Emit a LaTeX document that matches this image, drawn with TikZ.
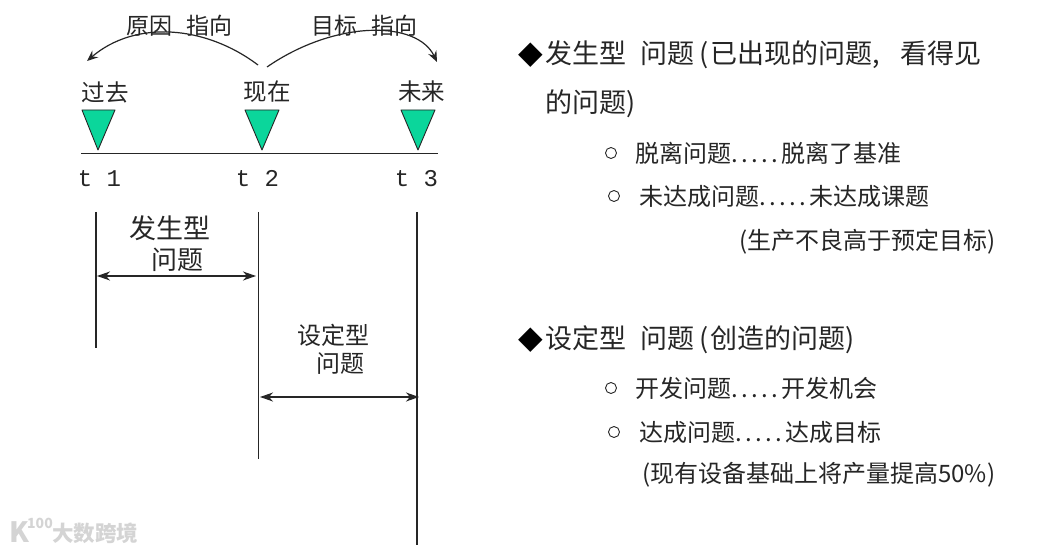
\documentclass[tikz,border=0pt]{standalone}
\usepackage{fontspec}
\setmainfont{Noto Sans CJK SC}[Scale=1]
\newfontfamily\latinf{Liberation Mono}
\newfontfamily\dejav{DejaVu Sans}
\usetikzlibrary{arrows.meta}
\definecolor{tri}{HTML}{0BD69B}
\definecolor{ink}{HTML}{262626}
\newcommand{\dotrun}{.\hspace{3.4pt}.\hspace{3.4pt}.\hspace{3.4pt}.\hspace{3.4pt}.\hspace{3.4pt}}
\tikzset{
  x=1pt,y=-1pt,
  lab/.style={inner sep=0pt,text=ink,font=\fontsize{#1}{#1}\selectfont},
  lab/.default=23,
  left lab/.style={lab=#1,anchor=west},
  left lab/.default=24,
  tlab/.style={inner sep=0pt,text=ink,font=\latinf\fontsize{24}{24}\selectfont},
  diam/.style={inner sep=0pt,text=black,font=\dejav\fontsize{32}{32}\selectfont},
  marker/.style={draw=ink,line width=0.9pt,fill=tri,line join=round},
  curve/.style={draw=ink,line width=1.2pt,-{Stealth[length=11pt,width=9pt,inset=4pt]}},
  span/.style={draw=ink,line width=1.1pt,{Stealth[length=13pt,width=9pt,inset=4pt]}-{Stealth[length=13pt,width=9pt,inset=4pt]}},
  vert/.style={draw=ink,line width=2pt},
  bullet/.style={draw=ink,line width=0.9pt,circle,inner sep=0pt,minimum size=11pt},
  wm/.style={left lab=#1,text=black!17,font=\bfseries\fontsize{#1}{#1}\selectfont},
}
\begin{document}
\begin{tikzpicture}
\useasboundingbox (0,0) rectangle (1060,553);
\fill[white] (0,0) rectangle (1060,553);

% top labels
\node[lab=23] (why) at (179.5,26) {原因\hspace{15pt}指向};
\node[lab=23] (goal) at (364.5,26) {目标\hspace{15pt}指向};
\coordinate (c1s) at (258,65); \coordinate (c1e) at (87,61);
\coordinate (c2s) at (267,67); \coordinate (c2e) at (437,62);
\draw[curve] (c1s) .. controls (205,25) and (135,20) .. (c1e);
\draw[curve] (c2s) .. controls (335,20) and (417,20) .. (c2e);

% time labels
\node[lab=23.5] (past) at (105,92) {过去};
\node[lab=23.5] (now) at (267,92) {现在};
\node[lab=23.5] (future) at (421.5,92) {未来};

% markers
\draw[marker] (82,110) -- (115,110) -- (98,150) -- cycle;
\draw[marker] (245,110) -- (279,110) -- (262,150) -- cycle;
\draw[marker] (401,110) -- (435,110) -- (418,150) -- cycle;
\coordinate (bl) at (81,153); \coordinate (br) at (438,153);
\draw[draw=ink,line width=0.9pt] (bl) -- (br);

\node[tlab] (t1) at (99.5,179) {t 1};
\node[tlab] (t2) at (257.5,179) {t 2};
\node[tlab] (t3) at (416.5,179) {t 3};

% verticals
\coordinate (v1t) at (96,212); \coordinate (v1b) at (96,348);
\coordinate (v2t) at (258,212); \coordinate (v2b) at (258,459);
\coordinate (v3t) at (417,212); \coordinate (v3b) at (417,545);
\draw[vert] (v1t) -- (v1b);
\draw[vert,line width=1pt] (v2t) -- (v2b);
\draw[vert] (v3t) -- (v3b);

\node[lab=27] (occ1) at (169.5,228) {发生型};
\node[lab=26] (occ2) at (177.5,260) {问题};
\coordinate (a1l) at (97,276); \coordinate (a1r) at (256,276);
\draw[span] (a1l) -- (a1r);

\node[lab=24] (set1) at (333.5,335) {设定型};
\node[lab=24] (set2) at (340,364) {问题};
\coordinate (a2l) at (260,397); \coordinate (a2r) at (419,397);
\draw[span] (a2l) -- (a2r);

% right column
\node[diam] (d1) at (530.5,55) {◆};
\node[left lab=27] (h1) at (545,55) {发生型\hspace{14pt}问题\hspace{5pt}(\hspace{2pt}已出现的问题,\hspace{21pt}看得见};
\node[left lab=27] (h1b) at (545,104) {的问题)};
\node[bullet] (b1) at (611,153) {};
\node[left lab] (l1) at (635,153) {脱离问题\dotrun 脱离了基准};
\node[bullet] (b2) at (614,196) {};
\node[left lab] (l2) at (639,196) {未达成问题\dotrun 未达成课题};
\node[left lab] (l3) at (739,242) {(生产不良高于预定目标)};

\node[diam] (d2) at (530.5,340) {◆};
\node[left lab=27] (h2) at (545,340) {设定型\hspace{14pt}问题\hspace{5pt}(\hspace{2pt}创造的问题)};
\node[bullet] (b3) at (611,388) {};
\node[left lab] (l4) at (635,388) {开发问题\dotrun 开发机会};
\node[bullet] (b4) at (614,432) {};
\node[left lab] (l5) at (639,432) {达成问题\dotrun 达成目标};
\node[left lab] (l6) at (642,475) {(现有设备基础上将产量提高50\%)};

% watermark
\node[wm=21.5] (wm1) at (52,533) {大数跨境};
\node[wm=28] (wk) at (9,532) {K};
\node[wm=14] (wn) at (27,523) {100};
\end{tikzpicture}
\end{document}
